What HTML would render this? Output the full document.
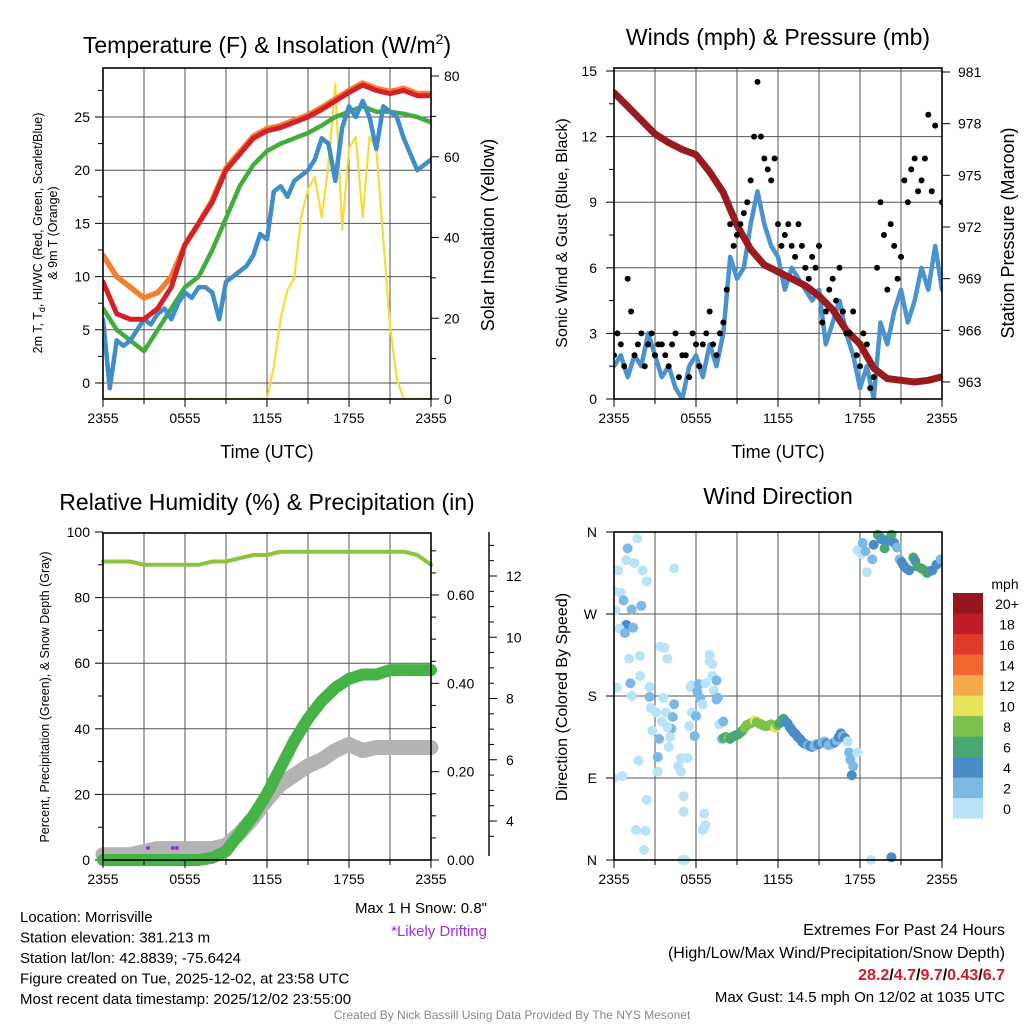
<!DOCTYPE html>
<html><head><meta charset="utf-8"><style>
body{margin:0;background:#fff}
svg{display:block;font-family:"Liberation Sans",Arial,sans-serif}
</style></head><body>
<svg id="c" width="1024" height="1024" viewBox="0 0 1024 1024"></svg>
<script>
// ---------- data ----------
const hoursTicks = ["2355","0555","1155","1755","2355"];
const tempRed = [9.5,6.5,6,6,7,9,13,15,17,20,21.5,23,23.7,24,24.5,25,25.7,26.5,27.3,28,27.5,27.2,27.5,27,27];
const tempOrange = [12,10,9,8,8.5,10,13,15,17.2,20.2,21.7,23.2,23.9,24.2,24.7,25.2,25.9,26.7,27.5,28.2,27.7,27.4,27.7,27.2,27.2];
const tempGreen = [7,5,4,3,5,7,9,10,12.5,15.5,18.5,20.5,21.8,22.5,23,23.5,24.2,25,25.5,26,25.5,25.5,25.3,25,24.5];
const dewBlue = [6,-0.5,4,3.5,4,5,6,5.5,6.5,7,6,7.5,8.5,8,9,9,8.5,6,9.5,10,10.5,11,12,14,13.5,18,18.5,17.5,19,19.5,20,21,23,22.5,19,24,26,25,26.5,25,22,26,25.5,25,23,21.5,20,20.5,21];
const insolation = [0,0,0,0,0,0,0,0,0,0,0,0,0,0,0,0,0,0,0,0,0,0,0,0,0,8,20,27,30,45,52,55,45,58,78,42,62,65,45,65,62,40,18,5,0,0,0,0,0];
const tempTicks = [0,5,10,15,20,25];
const insolTicks = [0,20,40,60,80];
const windSpeed = [1.5,2,1,2,1.5,3,2,1,1.5,0.5,0,1.5,2,1,2.5,1.5,3,6.5,5.5,6,8,9.5,8,7,6.5,5,6,5.5,5,4.5,5,2.5,3.5,4.5,3,2,0.5,1.5,0,3.5,2.5,4,5,3.5,4.5,6,5,7,5];
const gustA = [2,2.5,5.5,2,3,2.5,2,2.5,1.5,3,2,1,2.5,2.5,4,2,3.5,8,7.5,8.5,10,14.5,11,10,8,7.5,7,8,6,6.5,7,4,5.5,6,3,4,1.5,2.5,1,9,5,7,6.5,9,11,10,13,12.5,9];
const gustB = [3,1.5,4,2.5,1.5,3,2.5,2,2.5,1,2,3,1.5,3,2.5,3,5,7,8,9,12,12,10.5,11,7,8,6.5,7,5.5,6,3.5,5,4.5,4,3,2,3,0.5,6,7.5,8,5.5,10,10.5,9.5,11,9.5];
const pressure = [979.8,979,978.2,977.4,976.9,976.5,976.2,975.2,974,972.1,970.7,969.8,969.4,969,968.6,968,967.2,966,965.2,963.8,963.2,963.1,963,963.1,963.3];
const windTicks = [0,3,6,9,12,15];
const presTicks = [963,966,969,972,975,978,981];
const rh = [91,91,91,90,90,90,90,90,91,91,92,93,93,94,94,94,94,94,94,94,94,94,94,93,90];
const precip = [0,0,0,0,0,0,0,0,0.005,0.02,0.06,0.1,0.15,0.21,0.27,0.32,0.36,0.39,0.41,0.42,0.42,0.43,0.43,0.43,0.43];
const snow = [2.9,2.9,2.9,3.0,3.1,3.1,3.1,3.1,3.1,3.2,3.6,4.1,4.7,5.2,5.5,5.8,6.0,6.3,6.5,6.3,6.4,6.4,6.4,6.4,6.4];
const driftHours = [3.3,5.1,5.4];
const rhTicks = [0,20,40,60,80,100];
const precipTicks = ["0.00","0.20","0.40","0.60"];
const snowTicks = [4,6,8,10,12];
const dirHours = [1.7,1.0,0.3,0.9,1.5,2.1,2.4,0,0.5,0.7,1.3,2.0,0.1,0.9,0.4,0.8,1.4,4.4,3.4,3.7,3.9,1.9,1.1,1.9,1.2,0.2,1.3,2.6,2.6,3.6,2.7,3.1,3.8,4.4,4.3,3.5,4.2,3.9,2.8,3.3,4.1,4.0,1.8,3.2,4.9,5.4,4.7,4.9,3.2,0.6,0,2.4,5.1,5.1,1.6,2.3,2.2,5.0,5.2,5.6,5.7,6.2,6.1,6.3,6.5,6.7,5.7,6.0,5.5,5.9,7.0,7.0,7.2,7.2,7.5,7.3,7.5,7.6,7.7,8.0,6.6,6.7,6.5,6.6,
 7.9,8.05,8.2,8.35,8.5,8.65,8.8,8.95,9.1,9.25,9.4,9.55,9.7,9.85,10.0,10.15,10.3,10.45,10.6,10.75,10.9,11.05,11.2,11.35,11.5,11.65,11.8,11.95,12.1,12.25,12.4,12.55,12.7,12.85,13.0,13.15,13.3,13.45,13.6,13.75,13.9,14.05,14.2,14.35,14.5,14.65,14.8,14.95,15.1,15.25,15.4,15.55,15.7,15.85,16.0,16.15,16.3,16.45,16.6,16.75,16.9,17.1,17.2,17.3,17.5,17.4,17.8,
 17.8,18.1,18.2,18.4,18.5,18.9,19.0,19.3,19.45,19.6,19.8,19.95,20.1,20.3,20.5,20.7,20.9,21.05,21.2,21.4,21.6,21.9,22.05,22.2,22.5,22.7,22.9,23.1,23.3,23.6,23.9,18.8,20.3];
const dirDeg = [353,342,318,329,326,318,306,295,293,285,275,279,274,258,254,249,255,320,234,233,221,224,221,202,194,189,180,190,179,178,167,162,162,171,157,152,144,146,142,133,135,124,109,113,112,112,103,97,97,92,90,66,70,53,33,32,11,0,0,190,192,193,185,178,171,194,162,158,147,136,225,218,215,202,197,186,176,178,149,152,51,38,33,36,
 133,134,135,134,133,135,136,137,138,140,142,145,148,149,150,151,153,151,150,149,148,147,147,148,149,147,145,148,150,153,155,152,150,146,143,140,138,135,133,130,128,127,126,125,124,125,127,127,128,129,130,128,126,127,128,129,131,135,139,136,134,130,118,110,103,93,118,
 340,336,348,339,316,330,346,357,355,352,342,350,352,357,348,343,330,327,323,320,318,332,328,322,320,318,315,317,318,324,330,0,3];
const dirSpeed = [1,3,1,1,1,1,1,1,1,3,3,3,1,4,1,3,3,1,1,1,1,1,1,1,3,1,1,1,3,1,1,1,1,3,3,1,3,1,1,3,1,1,1,3,1,1,1,1,1,1,1,1,1,1,1,1,1,1,1,1,1,3,3,3,1,1,1,3,1,3,1,1,1,1,3,1,3,3,1,3,1,1,1,1,
 3,6,6,9,7,6,7,6,6,6,7,8,8,9,8,9,10,8,8,9,8,9,8,8,9,8,10,9,7,6,6,4,4,4,4,4,4,4,4,4,4,4,3,4,4,3,3,4,4,3,3,4,3,3,3,4,3,4,4,3,4,1,3,3,3,4,1,
 1,1,3,3,1,3,4,6,7,5,6,4,4,6,5,3,3,5,4,4,4,6,5,6,7,6,7,6,4,4,3,1,4];
const speedLabels = ["0","2","4","6","8","10","12","14","16","18","20+"];
const speedColors = ["#b9e3f8","#7db9e5","#4a8dc6","#49a872","#7cc24e","#e8e15a","#f7a848","#f06530","#e03a2b","#c01d28","#95171e"];
const dirTicks = ["N","E","S","W","N"];

// ---------- helpers ----------
const svg = document.getElementById('c');
const NS = 'http://www.w3.org/2000/svg';
function el(tag, attrs, parent){ const e=document.createElementNS(NS,tag); for(const k in attrs) e.setAttribute(k,attrs[k]); (parent||svg).appendChild(e); return e; }
function txt(x,y,s,size,anchor,parent,extra){ const t=el('text',Object.assign({x:x,y:y,'font-size':size,'text-anchor':anchor||'middle',fill:'#000'},extra||{}),parent); t.textContent=s; return t; }
function line(x1,y1,x2,y2,stroke,w,parent){ return el('line',{x1,y1,x2,y2,stroke,'stroke-width':w},parent); }
function lin(d0,d1,r0,r1){ return v=>r0+(v-d0)*(r1-r0)/(d1-d0); }
function pathFrom(arr,step,xs,ys){ return arr.map((v,i)=>(i?'L':'M')+xs(i*step).toFixed(1)+','+ys(v).toFixed(1)).join(''); }

function panelFrame(x0,y0,w,h,name){
  const g=el('g',{});
  
  
  for(let i=1;i<8;i++){ const x=x0+w*i/8; line(x,y0,x,y0+h,'#555',1,g); }
  return g;
}
function border(g,x0,y0,w,h){ el('rect',{x:x0,y:y0,width:w,height:h,fill:'none',stroke:'#000','stroke-width':1.6},g); }
function timeAxis(g,x0,y0,w,h){
  const xs=lin(0,24,x0,x0+w);
  for(let i=0;i<=8;i++){ line(xs(i*3),y0+h,xs(i*3),y0+h+(i%2==0?8:5),'#000',1,g); }
  hoursTicks.forEach((t,i)=>{ const tt=txt(xs(i*6),y0+h+24,t,14,'middle',g);
    
     });
}

// ================= Panel 1 =================
(function(){
  const x0=103,y0=68,w=328,h=331;
  const g=panelFrame(x0,y0,w,h,'temperature-panel');
  const xs=lin(0,24,x0,x0+w), ys=lin(0,25,383,117), yi=lin(0,80,399,76);
  tempTicks.forEach(v=>{ line(x0,ys(v),x0+w,ys(v),'#555',1,g); line(x0-8,ys(v),x0,ys(v),'#000',1,g);
    const t=txt(x0-13,ys(v)+5,String(v),14,'end',g);   });
  for(let v=-2.5;v<=28;v+=5){ if(ys(v)>y0&&ys(v)<y0+h) line(x0-5,ys(v),x0,ys(v),'#000',1,g); }
  insolTicks.forEach(v=>{ line(x0+w,yi(v),x0+w+8,yi(v),'#000',1,g);
    const t=txt(x0+w+13,yi(v)+5,String(v),14,'start',g);   });
  for(let v=10;v<=70;v+=20) line(x0+w,yi(v),x0+w+5,yi(v),'#000',1,g);
  const cp=el('clipPath',{id:'cp1'}); el('rect',{x:x0,y:y0,width:w,height:h},cp);
  const p=el('g',{'clip-path':'url(#cp1)'},g);
  const ins=el('path',{d:pathFrom(insolation,0.5,xs,yi),fill:'none',stroke:'#f5dc3c','stroke-width':2.2,'stroke-linejoin':'round'},p);
   
  const o=el('path',{d:pathFrom(tempOrange,1,xs,ys),fill:'none',stroke:'#f0812e','stroke-width':5.5,'stroke-linejoin':'round','stroke-linecap':'round'},p);
   
  const gr=el('path',{d:pathFrom(tempGreen,1,xs,ys),fill:'none',stroke:'#43ad3c','stroke-width':4.5,'stroke-linejoin':'round','stroke-linecap':'round'},p);
   
  const b=el('path',{d:pathFrom(dewBlue,0.5,xs,ys),fill:'none',stroke:'#3f8dc9','stroke-width':4.5,'stroke-linejoin':'round','stroke-linecap':'round'},p);
   
  const r=el('path',{d:pathFrom(tempRed,1,xs,ys),fill:'none',stroke:'#d62028','stroke-width':5,'stroke-linejoin':'round','stroke-linecap':'round'},p);
   
  border(g,x0,y0,w,h); timeAxis(g,x0,y0,w,h);
  const t1=el('text',{x:267,y:53,'font-size':23,'text-anchor':'middle'},g);
  t1.innerHTML='Temperature (F) &amp; Insolation (W/m<tspan dy="-9" font-size="14">2</tspan><tspan dy="9">)</tspan>';
   
  const xl=txt(267,458,'Time (UTC)',18,'middle',g);  
  const yl=el('text',{transform:'translate(42,233) rotate(-90)','font-size':12.5,'text-anchor':'middle'},g);
  yl.innerHTML='2m T, T<tspan dy="3" font-size="9">d</tspan><tspan dy="-3">, HI/WC (Red, Green, Scarlet/Blue)</tspan>';
   
  const yl2=txt(0,0,'& 9m T (Orange)',12.5,'middle',g,{transform:'translate(57,233) rotate(-90)'});  
  const yr=txt(0,0,'Solar Insolation (Yellow)',18,'middle',g,{transform:'translate(494,235) rotate(-90)'});  
})();

// ================= Panel 2 =================
(function(){
  const x0=614,y0=68,w=328,h=331;
  const g=panelFrame(x0,y0,w,h,'winds-panel');
  const xs=lin(0,24,x0,x0+w), ys=lin(0,15,399,71), yp=lin(963,981,382,72);
  windTicks.forEach(v=>{ if(v>0) line(x0,ys(v),x0+w,ys(v),'#555',1,g); line(x0-8,ys(v),x0,ys(v),'#000',1,g);
    const t=txt(x0-17,ys(v)+5,String(v),14,'end',g);   });
  for(let v=1.5;v<15;v+=3) line(x0-5,ys(v),x0,ys(v),'#000',1,g);
  presTicks.forEach(v=>{ line(x0+w,yp(v),x0+w+8,yp(v),'#000',1,g);
    const t=txt(x0+w+16,yp(v)+5,String(v),14,'start',g);   });
  const cp=el('clipPath',{id:'cp2'}); el('rect',{x:x0,y:y0,width:w,height:h},cp);
  const p=el('g',{'clip-path':'url(#cp2)'},g);
  const ws=el('path',{d:pathFrom(windSpeed,0.5,xs,ys),fill:'none',stroke:'#4a93cf','stroke-width':4.5,'stroke-linejoin':'round','stroke-linecap':'round'},p);
   
  const pr=el('path',{d:pathFrom(pressure,1,xs,yp),fill:'none',stroke:'#9a1b1e','stroke-width':7,'stroke-linejoin':'round','stroke-linecap':'round'},p);
   
  gustA.forEach((v,i)=>{ const c=el('circle',{cx:xs(i*0.5),cy:ys(v),r:3,fill:'#000'},p);
      });
  gustB.forEach((v,i)=>{ const c=el('circle',{cx:xs(i*0.5+0.25),cy:ys(v),r:3,fill:'#000'},p);
      });
  border(g,x0,y0,w,h); timeAxis(g,x0,y0,w,h);
  const t=txt(778,45,'Winds (mph) & Pressure (mb)',23,'middle',g);  
  const xl=txt(778,458,'Time (UTC)',18,'middle',g);  
  const yl=txt(0,0,'Sonic Wind & Gust (Blue, Black)',16,'middle',g,{transform:'translate(567,233) rotate(-90)'});  
  const yr=txt(0,0,'Station Pressure (Maroon)',18,'middle',g,{transform:'translate(1014,233) rotate(-90)'});  
})();

// ================= Panel 3 =================
(function(){
  const x0=103,y0=533,w=328,h=327;
  const g=panelFrame(x0,y0,w,h,'humidity-panel');
  const xs=lin(0,24,x0,x0+w), ys=lin(0,100,860,532), ypc=lin(0,0.6,860,595), ysn=lin(4,12,821,576);
  rhTicks.forEach(v=>{ if(v>0&&v<100) line(x0,ys(v),x0+w,ys(v),'#555',1,g); line(x0-8,ys(v),x0,ys(v),'#000',1,g);
    const t=txt(x0-13,ys(v)+5,String(v),14,'end',g);   });
  for(let v=10;v<100;v+=20) line(x0-5,ys(v),x0,ys(v),'#000',1,g);
  precipTicks.forEach(s=>{ const v=parseFloat(s); line(x0+w,ypc(v),x0+w+8,ypc(v),'#000',1,g);
    const t=txt(x0+w+16,ypc(v)+5,s,14,'start',g);   });
  for(let v=0.05;v<0.74;v+=0.05){ if(Math.abs(v*10-Math.round(v*10))>0.01||Math.round(v*10)%2) line(x0+w,ypc(v),x0+w+5,ypc(v),'#000',1,g); }
  const sx=489;
  line(sx,532,sx,856,'#000',1.4,g);
  snowTicks.forEach(v=>{ line(sx,ysn(v),sx+8,ysn(v),'#000',1,g);
    const t=txt(sx+17,ysn(v)+5,String(v),14,'start',g);   });
  for(let v=3.5;v<=13.5;v+=0.5){ if(v%2!==0 && ysn(v)>533 && ysn(v)<856) line(sx,ysn(v),sx+5,ysn(v),'#000',1,g); }
  const cp=el('clipPath',{id:'cp3'}); el('rect',{x:x0-8,y:y0-5,width:w+16,height:h+12},cp);
  const p=el('g',{'clip-path':'url(#cp3)'},g);
  const sn=el('path',{d:pathFrom(snow,1,xs,v=>Math.min(ysn(v),860)),fill:'none',stroke:'#b3b3b3','stroke-width':15,'stroke-linejoin':'round','stroke-linecap':'round'},p);
   
  const pc=el('path',{d:pathFrom(precip,1,xs,ypc),fill:'none',stroke:'#46b347','stroke-width':12,'stroke-linejoin':'round','stroke-linecap':'round'},p);
   
  const rl=el('path',{d:pathFrom(rh,1,xs,ys),fill:'none',stroke:'#8cc43f','stroke-width':4,'stroke-linejoin':'round','stroke-linecap':'round'},p);
   
  driftHours.forEach(hh=>{ const c=el('circle',{cx:xs(hh),cy:848,r:2,fill:'#a02ee0'},p);
      });
  border(g,x0,y0,w,h); timeAxis(g,x0,y0,w,h);
  const t=txt(267,510,'Relative Humidity (%) & Precipitation (in)',23,'middle',g);  
  const yl=txt(0,0,'Percent, Precipitation (Green), & Snow Depth (Gray)',12.5,'middle',g,{transform:'translate(49,697) rotate(-90)'});  
})();

// ================= Panel 4 =================
(function(){
  const x0=614,y0=532,w=328,h=328;
  const g=panelFrame(x0,y0,w,h,'wind-direction-panel');
  const xs=lin(0,24,x0,x0+w), yd=lin(0,360,860,532);
  dirTicks.forEach((s,i)=>{ const v=i*90; if(i>0&&i<4) line(x0,yd(v),x0+w,yd(v),'#555',1,g); line(x0-8,yd(v),x0,yd(v),'#000',1,g);
    const t=txt(x0-17,yd(v)+5,s,14,'end',g);   });
  const cp=el('clipPath',{id:'cp4'}); el('rect',{x:x0,y:y0-6,width:w,height:h+12},cp);
  const p=el('g',{'clip-path':'url(#cp4)'},g);
  dirHours.forEach((hh,i)=>{ const s=dirSpeed[i]; const bin=Math.min(10,Math.floor(s/2));
    const c=el('circle',{cx:xs(hh),cy:yd(dirDeg[i]),r:5,fill:speedColors[bin]},p);
      });
  border(g,x0,y0,w,h); timeAxis(g,x0,y0,w,h);
  const t=txt(778,504,'Wind Direction',23,'middle',g);  
  const yl=txt(0,0,'Direction (Colored By Speed)',16,'middle',g,{transform:'translate(567,697) rotate(-90)'});  
  const cb=el('g',{},g);
   
  const ut=txt(1005,589,'mph',14,'middle',cb);  
  speedLabels.forEach((s,i)=>{ const y=593+(10-i)*20.5;
    const r=el('rect',{x:953,y:y,width:30,height:20.6,fill:speedColors[i]},cb);
     
    const l=txt(1007,y+16,s,14,'middle',cb);   });
})();

// ================= Footer text =================
(function(){
  const g=el('g',{});
   
  ["Location: Morrisville","Station elevation: 381.213 m","Station lat/lon: 42.8839; -75.6424","Figure created on Tue, 2025-12-02, at 23:58 UTC","Most recent data timestamp: 2025/12/02 23:55:00"].forEach((s,i)=>{
    const t=txt(20,922+i*20.5,s,15,'start',g);   });
  const s1=txt(487,913,'Max 1 H Snow: 0.8"',15,'end');  
  const s2=txt(487,936,'*Likely Drifting',15,'end',null,{fill:'#a02ee0'});  
  const e1=txt(1005,935,'Extremes For Past 24 Hours',16,'end');  
  const e2=txt(1005,958,'(High/Low/Max Wind/Precipitation/Snow Depth)',16,'end');  
  const e3=el('text',{x:1005,y:980,'font-size':16,'text-anchor':'end','font-weight':'bold',fill:'#d01c24'});
  e3.innerHTML='28.2<tspan fill="#000">/</tspan>4.7<tspan fill="#000">/</tspan>9.7<tspan fill="#000">/</tspan>0.43<tspan fill="#000">/</tspan>6.7';
   
  const e4=txt(1005,1002,'Max Gust: 14.5 mph On 12/02 at 1035 UTC',15,'end');  
  const cr=txt(512,1019,'Created By Nick Bassill Using Data Provided By The NYS Mesonet',12,'middle',null,{fill:'#888'});  
})();
</script>
</body></html>
